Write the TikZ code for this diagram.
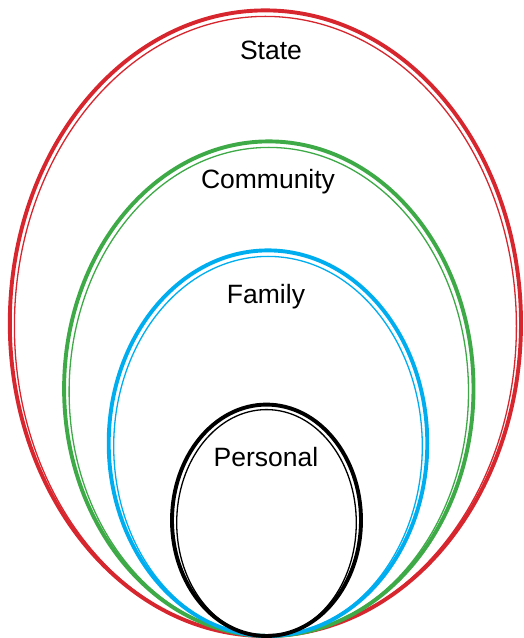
\documentclass[tikz,border=0pt]{standalone}
\usepackage{fontspec}
\setsansfont{Liberation Sans}
\usetikzlibrary{positioning}
\definecolor{stateRed}{HTML}{D7262E}
\definecolor{commGreen}{HTML}{3DAA47}
\definecolor{famBlue}{HTML}{00AEEF}
\definecolor{persBlack}{HTML}{000000}
\tikzset{
    ringOuter/.style={line width=3.9pt},
    ringInner/.style={line width=1.3pt},
    ringLabel/.style={font=\sffamily\fontsize{26.5}{30}\selectfont, inner sep=0pt,
                      anchor=base},
}

\begin{document}
\begin{tikzpicture}[x=1pt,y=1pt]
\useasboundingbox (0,0) rectangle (523,638);

% ---------------- STATE ----------------
\draw[ringOuter, draw=stateRed] (265.4,314.8) ellipse [x radius=255.6, y radius=312.8];
\draw[ringInner, draw=stateRed] (265.4,311.8) ellipse [x radius=251.0, y radius=309.8];
\node[ringLabel] (lblState) at (271,578) {State};

% ---------------- COMMUNITY ----------------
\draw[ringOuter, draw=commGreen] (268.8,249.3) ellipse [x radius=204.7, y radius=247.3];
\draw[ringInner, draw=commGreen] (268.8,246.3) ellipse [x radius=199.7, y radius=244.3];
\node[ringLabel] (lblComm) at (268,449) {Community};

% ---------------- FAMILY ----------------
\draw[ringOuter, draw=famBlue] (268,194.8) ellipse [x radius=159.3, y radius=192.8];
\draw[ringInner, draw=famBlue] (268,191.8) ellipse [x radius=154.3, y radius=189.8];
\node[ringLabel] (lblFam) at (266,334) {Family};

% ---------------- PERSONAL ----------------
\draw[ringOuter, draw=persBlack] (266.5,117.7) ellipse [x radius=94.5, y radius=115.7];
\draw[ringInner, draw=persBlack] (266.5,115.2) ellipse [x radius=89.8, y radius=113.2];
\node[ringLabel] (lblPers) at (266,171) {Personal};

\end{tikzpicture}
\end{document}
